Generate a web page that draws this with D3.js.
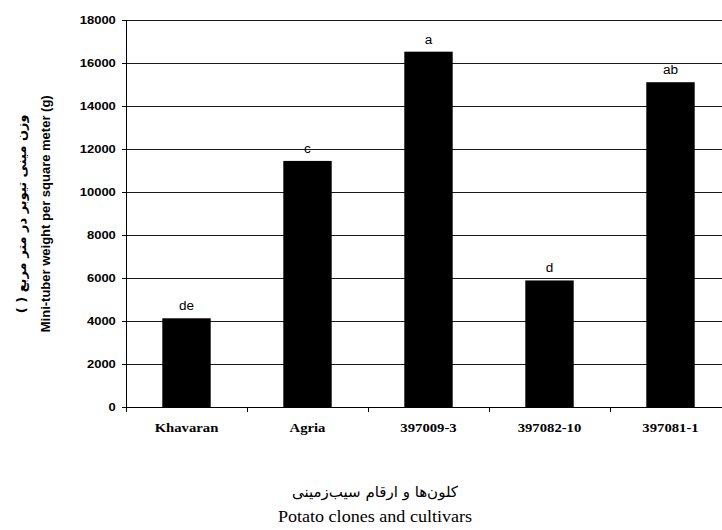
<!DOCTYPE html>
<html>
<head>
<meta charset="utf-8">
<script src="https://cdn.jsdelivr.net/npm/d3@7"></script>
<style>
body { margin: 0; background: #fff; }
svg { display: block; }
</style>
</head>
<body>
<svg id="viz"></svg>
<script>
// data
var clones = ["Khavaran", "Agria", "397009-3", "397082-10", "397081-1"];
var weights = [4140, 11460, 16540, 5900, 15120];
var groups = ["de", "c", "a", "d", "ab"];
var yTicks = [0, 2000, 4000, 6000, 8000, 10000, 12000, 14000, 16000, 18000];

var width = 722, height = 530;
var plotLeft = 126, plotRight = 731, plotTop = 20.3, plotBottom = 407.3;
var stretch = "scale(1.13,1)";

var svg = d3.select("#viz")
	.attr("width", width)
	.attr("height", height);

var x = d3.scaleBand()
	.domain(clones)
	.range([plotLeft, plotRight])
	.paddingInner(0.6)
	.paddingOuter(0.3);

var y = d3.scaleLinear()
	.domain([0, 18000])
	.range([plotBottom, plotTop]);

/* gridlines */
svg.append("g")
	.attr("class", "grid")
	.selectAll("line")
	.data(yTicks.slice(1))
	.enter().append("line")
	.attr("x1", plotLeft)
	.attr("x2", plotRight)
	.attr("y1", function(d){ return y(d); })
	.attr("y2", function(d){ return y(d); })
	.attr("stroke", "#1a1a1a")
	.attr("stroke-width", 1)
	.attr("shape-rendering", "crispEdges");

/* y axis */
var yAxis = d3.axisLeft(y)
	.tickValues(yTicks)
	.tickSize(4)
	.tickPadding(5)
	.tickFormat(d3.format("d"));

var yg = svg.append("g")
	.attr("transform", "translate(" + plotLeft + ",0)")
	.call(yAxis);
yg.select(".domain").attr("stroke", "#000").attr("shape-rendering", "crispEdges");
yg.selectAll(".tick line").attr("stroke", "#000").attr("shape-rendering", "crispEdges");
yg.selectAll(".tick text")
	.attr("font-family", "Liberation Sans, Arial, sans-serif")
	.attr("font-weight", "bold")
	.attr("font-size", "11.5px")
	.attr("fill", "#000")
	.attr("transform", stretch);

/* x axis: line, ticks between categories, labels */
var xg = svg.append("g");
xg.append("line")
	.attr("x1", plotLeft).attr("x2", plotRight)
	.attr("y1", y(0)).attr("y2", y(0))
	.attr("stroke", "#000")
	.attr("shape-rendering", "crispEdges");

var bounds = clones.map(function(c){ return x(c) - x.step() * x.paddingInner() / 2; });
bounds.push(plotRight);
xg.selectAll(".xtick")
	.data(bounds)
	.enter().append("line")
	.attr("class", "xtick")
	.attr("x1", function(d){ return d; })
	.attr("x2", function(d){ return d; })
	.attr("y1", y(0))
	.attr("y2", y(0) + 5)
	.attr("stroke", "#000")
	.attr("shape-rendering", "crispEdges");

xg.selectAll(".xlabel")
	.data(clones)
	.enter().append("g")
	.attr("transform", function(d){ return "translate(" + (x(d) + x.bandwidth() / 2) + "," + (y(0) + 24.5) + ")"; })
	.append("text")
	.attr("text-anchor", "middle")
	.attr("transform", stretch)
	.attr("font-family", "Liberation Serif, Times New Roman, serif")
	.attr("font-weight", "bold")
	.attr("font-size", "13px")
	.text(function(d){ return d; });

/* bars */
svg.append("g")
	.selectAll("rect")
	.data(clones)
	.enter().append("rect")
	.attr("x", function(d){ return x(d); })
	.attr("width", x.bandwidth())
	.attr("y", function(d, i){ return y(weights[i]); })
	.attr("height", function(d, i){ return y(0) - y(weights[i]); })
	.attr("fill", "#000");

/* mean separation letters */
svg.append("g")
	.selectAll("g")
	.data(clones)
	.enter().append("g")
	.attr("transform", function(d, i){ return "translate(" + (x(d) + x.bandwidth() / 2) + "," + (y(weights[i]) - 8) + ")"; })
	.append("text")
	.attr("text-anchor", "middle")
	.attr("transform", stretch)
	.attr("font-family", "Liberation Sans, Arial, sans-serif")
	.attr("font-size", "12px")
	.text(function(d, i){ return groups[i]; });

/* y titles */
var midY = (plotTop + plotBottom) / 2;
svg.append("text")
	.attr("transform", "translate(45," + midY + ") rotate(-90)")
	.attr("text-anchor", "middle")
	.attr("dy", "0.35em")
	.attr("font-family", "Liberation Sans, Arial, sans-serif")
	.attr("font-weight", "bold")
	.attr("font-size", "13px")
	.text("Mini-tuber weight per square meter (g)");

svg.append("text")
	.attr("transform", "translate(21," + midY + ") rotate(-90)")
	.attr("text-anchor", "middle")
	.attr("dy", "0.35em")
	.attr("direction", "rtl")
	.attr("font-family", "DejaVu Sans, sans-serif")
	.attr("font-weight", "bold")
	.attr("font-size", "13px")
	.attr("letter-spacing", "0.5px")
	.text("وزن مینی تیوبر در متر مربع (      )");

/* x titles */
svg.append("text")
	.attr("x", 375)
	.attr("y", 497)
	.attr("text-anchor", "middle")
	.attr("direction", "rtl")
	.attr("font-family", "DejaVu Sans, sans-serif")
	.attr("font-size", "15px")
	.text("کلون‌ها و ارقام سیب‌زمینی");

svg.append("g")
	.attr("transform", "translate(375,522)")
	.append("text")
	.attr("text-anchor", "middle")
	.attr("transform", stretch)
	.attr("font-family", "Liberation Serif, Times New Roman, serif")
	.attr("font-size", "16px")
	.text("Potato clones and cultivars");
</script>
</body>
</html>
